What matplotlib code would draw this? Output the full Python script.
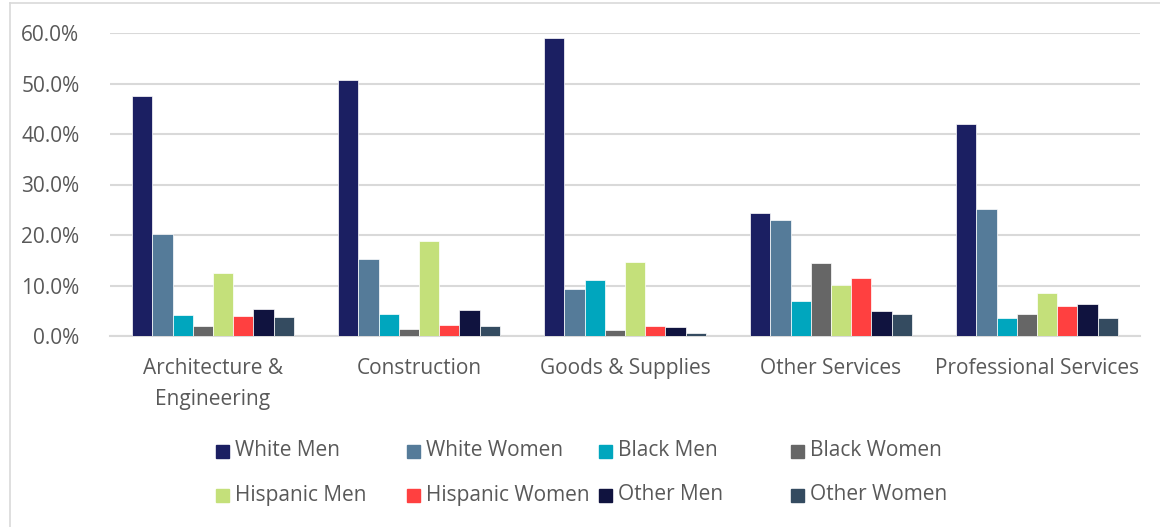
import numpy as np
import matplotlib.pyplot as plt
import matplotlib.patches as mpatches
from matplotlib.ticker import PercentFormatter

plt.rcParams["font.family"] = ["Open Sans", "DejaVu Sans"]

categories = ["Architecture &\nEngineering", "Construction", "Goods & Supplies",
              "Other Services", "Professional Services"]
groups = ["White Men", "White Women", "Black Men", "Black Women",
          "Hispanic Men", "Hispanic Women", "Other Men", "Other Women"]

# share of each group per category, in percent
white_men      = [47.5, 50.6, 59.1, 24.3, 42.0]
white_women    = [20.2, 15.3,  9.4, 22.9, 25.1]
black_men      = [ 4.2,  4.4, 11.1,  6.9,  3.6]
black_women    = [ 2.0,  1.3,  1.2, 14.5,  4.4]
hispanic_men   = [12.5, 18.9, 14.6, 10.1,  8.6]
hispanic_women = [ 4.0,  2.1,  2.0, 11.5,  5.9]
other_men      = [ 5.4,  5.2,  1.7,  4.9,  6.3]
other_women    = [ 3.8,  1.9,  0.5,  4.4,  3.6]

series = [white_men, white_women, black_men, black_women,
          hispanic_men, hispanic_women, other_men, other_women]
colors = ["#1B1F62", "#557B99", "#00A6BE", "#666666",
          "#C4E07A", "#FF4040", "#10133F", "#344B60"]

TEXT = "#595959"
GRID = "#D9D9D9"
W, H = 1160, 527

fig = plt.figure(figsize=(W / 100, H / 100), dpi=100)
ax = fig.add_axes([110 / W, 1 - 336 / H, 1030 / W, 303 / H])

x = np.arange(len(categories))
bw = 0.786 / len(series)
for i, (vals, c) in enumerate(zip(series, colors)):
    off = (i - (len(series) - 1) / 2) * bw
    ax.bar(x + off, vals, bw, color=c, edgecolor="white", linewidth=0.5, zorder=3)

ax.set_xlim(-0.5, len(categories) - 0.5)
ax.set_ylim(0, 60)
ax.set_yticks(np.arange(0, 61, 10))
ax.yaxis.set_major_formatter(PercentFormatter(decimals=1))
ax.set_xticks(x)
ax.set_xticklabels(categories, linespacing=1.6)
ax.tick_params(axis="both", length=0, labelsize=15, colors=TEXT)
ax.tick_params(axis="y", pad=22)
ax.tick_params(axis="x", pad=16)
ax.grid(axis="y", color=GRID, linewidth=1.5, zorder=0)
for s in ["top", "right", "left"]:
    ax.spines[s].set_visible(False)
ax.spines["bottom"].set_color(GRID)
ax.spines["bottom"].set_linewidth(1.5)

# chart frame (left and top edges)
fig.add_artist(plt.Line2D([10 / W, 10 / W], [0, 1 - 3 / H], color=GRID, lw=1.2))
fig.add_artist(plt.Line2D([10 / W, 1], [1 - 3 / H, 1 - 3 / H], color=GRID, lw=1.2))

# legend, two rows of four
col_x = [216, 407, 599, 791]
row_y = [451, 495]
sq = 13
for i, (name, c) in enumerate(zip(groups, colors)):
    cx = col_x[i % 4]
    cy = row_y[i // 4]
    fig.add_artist(mpatches.Rectangle((cx / W, 1 - (cy + sq / 2) / H), sq / W, sq / H,
                                      transform=fig.transFigure, color=c))
    fig.text((cx + 19) / W, 1 - cy / H, name, fontsize=15, color=TEXT,
             va="center", ha="left")

fig.savefig("out.png", dpi=100)
